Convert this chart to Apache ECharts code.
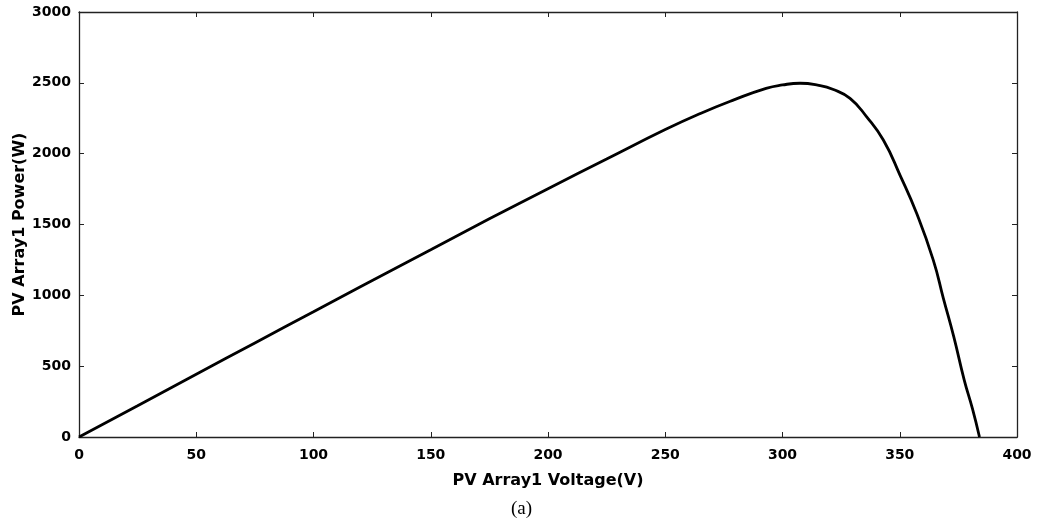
<!DOCTYPE html>
<html>
<head>
<meta charset="utf-8">
<script src="https://cdn.jsdelivr.net/npm/echarts@6/dist/echarts.min.js"></script>
<style>html,body{margin:0;padding:0;background:#fff;}#c{width:1038px;height:526px;}</style>
</head>
<body>
<div id="c"></div>
<script>
const voltage = [0,25,50,75,100,120,150,175,200,225,250,265,279,293,300,307.5,315,321.7,328.8,335.9,343,350.1,357.2,364.3,368.6,373,377.5,381,384];
const power   = [0,221,443,664,884,1061,1322,1540,1753,1962,2170,2284,2378,2461,2485,2497,2484,2453,2390,2260,2096,1849,1579,1249,979,710,402,200,0];
const xTicks = [0,50,100,150,200,250,300,350,400];
const yTicks = [0,500,1000,1500,2000,2500,3000];
const xName = 'PV Array1 Voltage(V)';
const yName = 'PV Array1 Power(W)';
const caption = '(a)';

const chart = echarts.init(document.getElementById('c'), null, {renderer:'canvas'});
const FONT = 'DejaVu Sans, Verdana, sans-serif';
const lbl = {color:'#000', fontFamily:FONT, fontWeight:'bold', fontSize:14, formatter:v=>String(v)};
const axLine = {show:true, onZero:false, lineStyle:{color:'#222', width:1.3}};
const tick = {show:true, inside:true, length:5, lineStyle:{color:'#222'}};
chart.setOption({
  animation:false,
  backgroundColor:'#fff',
  grid:{left:79, right:21, top:12, bottom:89, containLabel:false, outerBoundsMode:'none'},
  xAxis:[{
    type:'value', min:xTicks[0], max:xTicks[xTicks.length-1], interval:50,
    axisLine:axLine, axisTick:tick, splitLine:{show:false},
    axisLabel:Object.assign({margin:11}, lbl),
    name:xName, nameLocation:'middle', nameGap:36, nameMoveOverlap:false,
    nameTextStyle:{color:'#000', fontFamily:FONT, fontWeight:'bold', fontSize:16}
  },{
    type:'value', position:'top', min:0, max:400, interval:50,
    axisLine:axLine, axisTick:tick, axisLabel:{show:false}, splitLine:{show:false}
  }],
  yAxis:[{
    type:'value', min:yTicks[0], max:yTicks[yTicks.length-1], interval:500,
    axisLine:axLine, axisTick:tick, splitLine:{show:false},
    axisLabel:Object.assign({margin:8}, lbl),
    name:yName, nameLocation:'middle', nameGap:51, nameMoveOverlap:false,
    nameTextStyle:{color:'#000', fontFamily:FONT, fontWeight:'bold', fontSize:16}
  },{
    type:'value', position:'right', min:0, max:3000, interval:500,
    axisLine:axLine, axisTick:tick, axisLabel:{show:false}, splitLine:{show:false}
  }],
  graphic:[{
    type:'text', left:511, top:500,
    style:{text:caption, fontFamily:'Liberation Serif, Times New Roman, serif', fontSize:19, fill:'#000'}
  }],
  series:[{
    type:'line', xAxisIndex:0, yAxisIndex:0,
    data: voltage.map((v,i)=>[v, power[i]]),
    showSymbol:false, smooth:0.5,
    lineStyle:{color:'#000', width:2.8}
  }]
});
</script>
</body>
</html>
